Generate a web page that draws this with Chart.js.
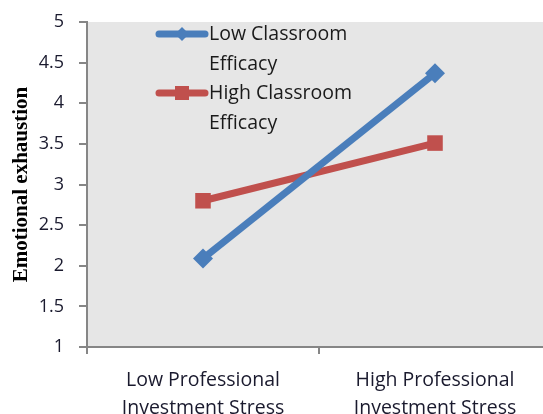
<!DOCTYPE html>
<html>
<head>
<meta charset="utf-8">
<script src="https://cdn.jsdelivr.net/npm/chart.js@4"></script>
<style>
  html, body { margin: 0; padding: 0; background: #fff; overflow: hidden; }
  #wrap { width: 562px; height: 414px; }
</style>
</head>
<body>
<div id="wrap"><canvas id="chart" width="562" height="414"></canvas></div>
<script>
const categories = [
  ["Low Professional", "Investment Stress"],
  ["High Professional", "Investment Stress"]
];
const seriesNames = [
  ["Low Classroom", "Efficacy"],
  ["High Classroom", "Efficacy"]
];
const lowEfficacy = [2.09, 4.37];
const highEfficacy = [2.80, 3.51];
const yTicks = [1, 1.5, 2, 2.5, 3, 3.5, 4, 4.5, 5];

const FONT = "'Open Sans', 'Liberation Sans', sans-serif";

// gray plot background
const plotBg = {
  id: 'plotBg',
  beforeDraw(chart) {
    const a = chart.chartArea, ctx = chart.ctx;
    ctx.save();
    ctx.fillStyle = '#e6e6e6';
    ctx.fillRect(a.left, a.top, a.right - a.left, a.bottom - a.top);
    ctx.restore();
  }
};

// legend drawn inside the plot, two text lines per entry
const innerLegend = {
  id: 'innerLegend',
  afterDraw(chart) {
    const ctx = chart.ctx;
    const rows = [34, 93];
    chart.data.datasets.forEach((ds, i) => {
      const y = rows[i];
      ctx.save();
      ctx.strokeStyle = ds.borderColor;
      ctx.lineWidth = 7;
      ctx.lineCap = 'round';
      ctx.beginPath();
      ctx.moveTo(159, y);
      ctx.lineTo(205, y);
      ctx.stroke();
      ctx.fillStyle = ds.borderColor;
      if (i === 0) {
        ctx.beginPath();
        ctx.moveTo(182, y - 7); ctx.lineTo(189, y); ctx.lineTo(182, y + 7); ctx.lineTo(175, y);
        ctx.closePath(); ctx.fill();
      } else {
        ctx.fillRect(175, y - 7, 14, 14);
      }
      ctx.fillStyle = '#1a1a1a';
      ctx.font = '19.5px ' + FONT;
      ctx.textBaseline = 'middle';
      seriesNames[i].forEach((t, k) => ctx.fillText(t, 209, y + k * 30));
      ctx.restore();
    });
  }
};

new Chart(document.getElementById('chart'), {
  type: 'line',
  data: {
    labels: categories,
    datasets: [
      {
        label: seriesNames[0].join(' '),
        data: lowEfficacy,
        borderColor: '#4a7ebb',
        backgroundColor: '#4a7ebb',
        borderWidth: 7,
        pointStyle: 'rectRot',
        pointRadius: 10,
        pointBorderWidth: 0,
        tension: 0
      },
      {
        label: seriesNames[1].join(' '),
        data: highEfficacy,
        borderColor: '#c0504d',
        backgroundColor: '#c0504d',
        borderWidth: 7,
        pointStyle: 'rect',
        pointRadius: 11,
        pointBorderWidth: 0,
        tension: 0
      }
    ]
  },
  options: {
    responsive: false,
    animation: false,
    layout: { padding: { top: 22, right: 4, left: 0, bottom: 0 } },
    plugins: {
      legend: { display: false },
      tooltip: { enabled: false }
    },
    scales: {
      x: {
        offset: true,
        grid: { offset: true, drawOnChartArea: false, tickLength: 7, color: '#868686', lineWidth: 2 },
        border: { color: '#868686', width: 2 },
        ticks: { color: '#1a1a2e', font: { family: FONT, size: 19.5, lineHeight: 1.45 }, padding: 12, maxRotation: 0 },
        afterFit(s) { s.height = 67; s.paddingLeft = 0; s.paddingRight = 0; }
      },
      y: {
        min: 1, max: 5,
        afterBuildTicks(s) { s.ticks = yTicks.map(v => ({ value: v })); },
        grid: { drawOnChartArea: false, tickLength: 8, color: '#868686', lineWidth: 2 },
        border: { color: '#868686', width: 2 },
        ticks: {
          color: '#1a1a2e', font: { family: FONT, size: 18 }, padding: 15,
          callback: v => String(v)
        },
        title: {
          display: true,
          text: 'Emotional exhaustion',
          color: '#000',
          font: { family: "'Liberation Serif', serif", size: 21, weight: 'bold' },
          padding: { top: 9, bottom: 0 }
        },
        afterFit(s) { s.width = 87; s.paddingTop = 0; s.paddingBottom = 0; }
      }
    }
  },
  plugins: [plotBg, innerLegend]
});
</script>
</body>
</html>
